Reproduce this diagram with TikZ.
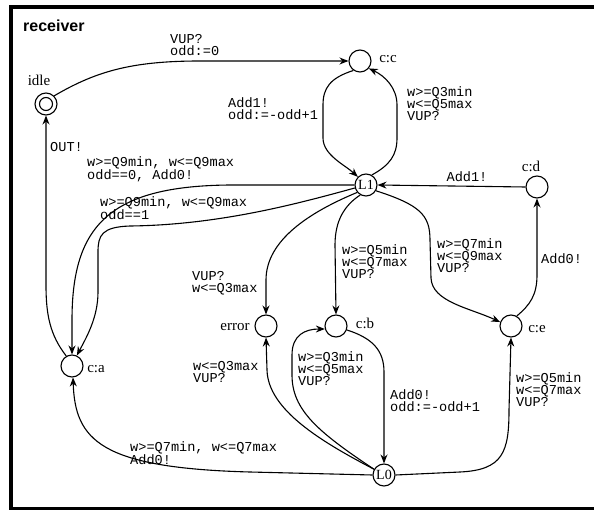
\documentclass[tikz,border=0pt]{standalone}
\usepackage{fontspec}
\setmainfont{Liberation Serif}
\newfontfamily\monof{Liberation Mono}
\newfontfamily\sansf{Liberation Sans}
\usetikzlibrary{arrows.meta}
\begin{document}
\begin{tikzpicture}[x=1pt,y=-1pt,
  state/.style={circle, draw, line width=1.1pt, minimum size=22pt, inner sep=0pt, font=\fontsize{14}{14}\selectfont},
  edge/.style={draw, line width=1.1pt, -{Stealth[length=9pt,width=7pt,inset=3pt]}},
  lab/.style={anchor=north west, inner sep=0pt, align=left, font=\monof\fontsize{13.6}{12.4}\selectfont},
  nlab/.style={inner sep=0pt, font=\fontsize{15}{15}\selectfont}]
\useasboundingbox (0,0) rectangle (594,510);
\draw[line width=4pt] (600,7) -- (11,7) -- (11,509) -- (600,509);
\node[anchor=base west, inner sep=0pt, font=\sansf\bfseries\fontsize{16}{16}\selectfont] (title) at (23,32) {receiver};

% states
\node[state] (idle) at (46,104) {};
\draw[line width=1.1pt] (idle.center) circle (6.5pt);
\node[state] (cc) at (360,61) {};
\node[state] (L1) at (366,185) {L1};
\node[state] (cd) at (537,187) {};
\node[state] (ce) at (511,326) {};
\node[state] (cb) at (336,326) {};
\node[state] (err) at (266,326) {};
\node[state] (ca) at (72,366) {};
\node[state] (L0) at (384,475) {L0};

% state names
\node[nlab] (idlel) at (39,80) {idle};
\node[nlab] (ccl) at (388,59) {c:c};
\node[nlab] (cdl) at (531,166) {c:d};
\node[nlab] (cel) at (537,329) {c:e};
\node[nlab] (cbl) at (365,323) {c:b};
\node[nlab] (errl) at (235,327) {error};
\node[nlab] (cal) at (96,369) {c:a};

% edges
\draw[edge] (idle.north east) .. controls (95,72) and (130,61) .. (200,61) -- (cc.west);
\draw[edge] (cc.235) .. controls (330,78) and (323,88) .. (323,105) -- (323,138) .. controls (323,155) and (345,165) .. (L1.135);
\draw[edge] (L1.60) .. controls (390,165) and (397,155) .. (397,138) -- (397,105) .. controls (397,88) and (385,76) .. (cc.-40);
\draw[edge] (cd.west) -- (L1.east);
\draw[edge] (ce.60) .. controls (530,305) and (537,295) .. (537,275) -- (cd.south);
\draw[edge] (L1.-30) .. controls (420,205) and (430,215) .. (430,240) -- (431,278) .. controls (432,302) and (470,308) .. (ce.160);
\draw[edge] (L1.240) .. controls (345,205) and (335,220) .. (335,245) -- (cb.north);
\draw[edge] (L1.220) .. controls (310,212) and (266,240) .. (266,280) -- (err.north);
\draw[edge] (L1.west) -- (230,185) .. controls (110,186) and (72,225) .. (72,320) -- (ca.north);
\draw[edge] (L1.195) .. controls (300,203) and (220,225) .. (130,226) .. controls (102,227) and (98,235) .. (98,252) -- (98,292) .. controls (98,318) and (86,338) .. (ca.65);
\draw[edge] (ca.120) .. controls (50,335) and (46,315) .. (46,285) -- (idle.south);
\draw[edge] (L0.west) -- (250,472) .. controls (100,468) and (75,440) .. (ca.-85);
\draw[edge] (L0.150) .. controls (322,442) and (268,410) .. (267,370) -- (err.south);
\draw[edge] (L0.150) .. controls (318,432) and (292,410) .. (292,375) -- (292,355) .. controls (292,335) and (305,329) .. (cb.195);
\draw[edge] (cb.-20) .. controls (372,338) and (384,350) .. (384,372) -- (L0.north);
\draw[edge] (L0.east) -- (460,472) .. controls (503,470) and (509,452) .. (509,410) -- (ce.south);

% edge labels
\node[lab] (t1) at (170,34) {VUP?\\odd:=0};
\node[lab] (t2) at (228,97) {Add1!\\odd:=-odd+1};
\node[lab] (t3) at (407,86) {w>=Q3min\\w<=Q5max\\VUP?};
\node[lab, anchor=north] (t4) at (467,171) {Add1!};
\node[lab] (t5) at (87,156) {w>=Q9min, w<=Q9max\\odd==0, Add0!};
\node[lab] (t6) at (100,196) {w>=Q9min, w<=Q9max\\odd==1};
\node[lab] (t7) at (50,142) {OUT!};
\node[lab] (t8) at (192,271) {VUP?\\w<=Q3max};
\node[lab] (t9) at (342,244) {w>=Q5min\\w<=Q7max\\VUP?};
\node[lab] (t10) at (437,238) {w>=Q7min\\w<=Q9max\\VUP?};
\node[lab] (t11) at (541,253) {Add0!};
\node[lab] (t12) at (193,361) {w<=Q3max\\VUP?};
\node[lab] (t13) at (298,351) {w>=Q3min\\w<=Q5max\\VUP?};
\node[lab] (t14) at (390,389) {Add0!\\odd:=-odd+1};
\node[lab] (t15) at (516,372) {w>=Q5min\\w<=Q7max\\VUP?};
\node[lab] (t16) at (130,441) {w>=Q7min, w<=Q7max\\Add0!};
\end{tikzpicture}
\end{document}
